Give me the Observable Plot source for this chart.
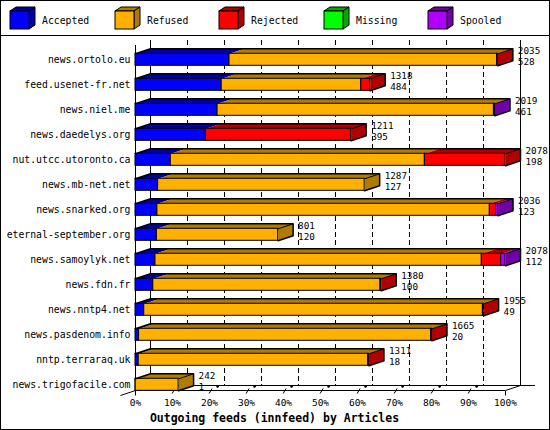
<!DOCTYPE html>
<html>
<head>
<meta charset="utf-8">
<script src="https://cdn.jsdelivr.net/npm/d3@7"></script>
<script src="https://cdn.jsdelivr.net/npm/@observablehq/plot@0.6"></script>
<style>
  html, body { margin: 0; padding: 0; background: #fff; }
  #wrap { position: relative; width: 550px; height: 430px; overflow: hidden; background: #fff; }
  #legend { position: absolute; left: 0; top: 0; width: 550px; height: 36px; }
  #chart { position: absolute; left: 0; top: 36px; }
  #frame { position: absolute; left: 0; top: 0; width: 550px; height: 430px; box-sizing: border-box; border: 1px solid #000; pointer-events: none; }
  text { font-family: "DejaVu Sans Mono", "Liberation Mono", monospace; }
</style>
</head>
<body>
<div id="wrap">
  <svg id="legend" width="550" height="36"></svg>
  <div id="chart"></div>
  <div id="frame"></div>
</div>
<script>
// ---- data ----
const hosts = ["news.ortolo.eu", "feed.usenet-fr.net", "news.niel.me", "news.daedelys.org",
  "nut.utcc.utoronto.ca", "news.mb-net.net", "news.snarked.org", "eternal-september.org",
  "news.samoylyk.net", "news.fdn.fr", "news.nntp4.net", "news.pasdenom.info",
  "nntp.terraraq.uk", "news.trigofacile.com"];
const totals   = [2035, 1318, 2019, 1211, 2078, 1287, 2036, 801, 2078, 1380, 1955, 1665, 1311, 242];
const accepted = [528, 484, 461, 395, 198, 127, 123, 120, 112, 100, 49, 20, 18, 1];
const refused  = [1503, 784, 1552, 0, 1427, 1160, 1867, 681, 1833, 1276, 1902, 1640, 1289, 241];
const rejected = [4, 50, 0, 816, 453, 0, 35, 0, 109, 4, 4, 5, 4, 0];
const missing  = [0, 0, 0, 0, 0, 0, 0, 0, 0, 0, 0, 0, 0, 0];
const spooled  = [0, 0, 6, 0, 0, 0, 11, 0, 24, 0, 0, 0, 0, 0];
const categories = ["Accepted", "Refused", "Rejected", "Missing", "Spooled"];
const frontColors = ["#0000ff", "#ffb000", "#ff0000", "#00ff00", "#b000ff"];
const darkColors  = ["#0000a8", "#b07c00", "#b00000", "#00a800", "#7000a8"];
const xTicks = [0, 10, 20, 30, 40, 50, 60, 70, 80, 90, 100];
const xTitle = "Outgoing feeds (innfeed) by Articles";

// ---- legend ----
const leg = d3.select("#legend");
leg.append("line").attr("x1", 0).attr("x2", 550).attr("y1", 35.5).attr("y2", 35.5).attr("stroke", "#000");
categories.forEach((c, k) => {
  const x0 = 10 + k * 104.5, y0 = 11, w = 19, h = 18, ddx = 6, ddy = -4;
  const g = leg.append("g").attr("transform", `translate(${Math.round(x0)},0)`);
  g.append("polygon").attr("points", `0,${y0} ${ddx},${y0+ddy} ${w+ddx},${y0+ddy} ${w},${y0}`)
    .attr("fill", darkColors[k]).attr("stroke", "#000");
  g.append("polygon").attr("points", `${w},${y0} ${w+ddx},${y0+ddy} ${w+ddx},${y0+h+ddy} ${w},${y0+h}`)
    .attr("fill", darkColors[k]).attr("stroke", "#000");
  g.append("rect").attr("x", 0).attr("y", y0).attr("width", w).attr("height", h)
    .attr("fill", frontColors[k]).attr("stroke", "#000");
  g.append("text").attr("x", 32).attr("y", 20.5).attr("dominant-baseline", "middle")
    .attr("font-size", 9.8).attr("fill", "#000").text(c);
});

// ---- geometry helpers (in data units) ----
const maxTotal = d3.max(totals);
const pct = v => v / maxTotal * 100;
const DX = 15 * 100 / 370;     // depth offset along x
const DY = -0.2;               // depth offset along y (rows)
const H = 0.24;                // half bar height (rows)
const frontTop = -0.572, backTop = frontTop + DY;
const frontFloor = 13.228, backFloor = frontFloor + DY;

const series = [accepted, refused, rejected, missing, spooled];
const segs = [], tops = [], sides = [], outlines = [], edges = [];
hosts.forEach((h, i) => {
  let cum = 0, last = 0;
  series.forEach((s, c) => {
    const v = s[i];
    if (v > 0) {
      const a = pct(cum), b = pct(cum + v);
      segs.push({i, c, x1: a, x2: b, fill: frontColors[c]});
      const id = `t${i}-${c}`;
      [[a, i - H], [b, i - H], [b + DX, i - H + DY], [a + DX, i - H + DY]]
        .forEach(([x, y]) => tops.push({id, x, y, fill: darkColors[c]}));
      cum += v; last = c;
    }
  });
  const e = pct(totals[i]);
  [[e, i - H], [e + DX, i - H + DY], [e + DX, i + H + DY], [e, i + H]]
    .forEach(([x, y]) => sides.push({id: `s${i}`, x, y, fill: darkColors[last]}));
  [[0, i - H], [DX, i - H + DY], [e + DX, i - H + DY], [e + DX, i + H + DY], [e, i + H]]
    .forEach(([x, y]) => outlines.push({id: `o${i}`, x, y}));
  edges.push({x1: e, y1: i - H, x2: e + DX, y2: i - H + DY});
});
const labels = hosts.map((h, i) => ({i, host: h, total: String(totals[i]), acc: String(accepted[i]), e: pct(totals[i])}));

const mono = "DejaVu Sans Mono, Liberation Mono, monospace";
const inner = xTicks.filter(t => t > 0 && t < 100);

const chart = Plot.plot({
  width: 550,
  height: 394,
  marginLeft: 135, marginRight: 45, marginTop: 23.3, marginBottom: 45.7,
  x: {domain: [0, 100], range: [135, 505], axis: null},
  y: {domain: [0, 13], range: [23.3, 348.3], axis: null},
  color: {type: "identity"},
  style: {fontFamily: mono, fontSize: "9.8px", background: "#fff", color: "#000"},
  marks: [
    // back wall grid
    Plot.ruleX(inner, {x: d => d + DX, y1: backTop, y2: backFloor, stroke: "#000", strokeDasharray: "5,3"}),
    Plot.ruleX([0, 100], {x: d => d + DX, y1: backTop, y2: backFloor, stroke: "#000"}),
    // floor
    Plot.ruleY([backFloor], {y: d => d, x1: DX, x2: 108.1, stroke: "#000"}),
    Plot.ruleY([frontFloor], {y: d => d, x1: 0, x2: 100, stroke: "#000"}),
    Plot.link([0], {x1: -DX, y1: frontFloor - DY, x2: DX, y2: backFloor, stroke: "#000"}),
    Plot.link([100], {x1: d => d, y1: frontFloor, x2: d => d + DX, y2: backFloor, stroke: "#000"}),
    Plot.link([0, 100], {x1: d => d, x2: d => d, y1: frontFloor, y2: frontFloor + 0.2, stroke: "#000"}),
    Plot.link(inner, {x1: d => d - 0.1, y1: frontFloor + 0.12, x2: d => d + 0.7, y2: frontFloor - 0.08, stroke: "#000"}),
    Plot.link(inner, {x1: d => d + 1.9, y1: backFloor + 0.06, x2: d => d + 2.5, y2: backFloor + 0.02, stroke: "#000", strokeWidth: 2}),
    // front left wall line
    Plot.ruleX([0], {y1: frontTop, y2: frontFloor, stroke: "#000"}),
    // bars: top faces, side faces, fronts, outlines
    Plot.line(tops, {x: "x", y: "y", z: "id", fill: "fill", stroke: "none", curve: "linear-closed"}),
    Plot.line(sides, {x: "x", y: "y", z: "id", fill: "fill", stroke: "none", curve: "linear-closed"}),
    Plot.rect(segs, {x1: "x1", x2: "x2", y1: d => d.i - H, y2: d => d.i + H, fill: "fill", stroke: "#000", strokeWidth: 1}),
    Plot.line(outlines, {x: "x", y: "y", z: "id", stroke: "#000", fill: "none"}),
    Plot.link(edges, {x1: "x1", y1: "y1", x2: "x2", y2: "y2", stroke: "#000"}),
    // host labels
    Plot.text(labels, {x: 0, y: "i", text: "host", textAnchor: "end", dx: -5, lineAnchor: "middle", fill: "#000"}),
    // value labels
    Plot.text(labels, {x: d => d.e + DX, y: d => d.i - 0.37, text: "total", textAnchor: "start", dx: 5, lineAnchor: "middle", fill: "#000", fontSize: 9.3}),
    Plot.text(labels, {x: d => d.e + DX, y: d => d.i + 0.08, text: "acc", textAnchor: "start", dx: 5, lineAnchor: "middle", fill: "#000", fontSize: 9.3}),
    // x tick labels
    Plot.text(xTicks, {x: d => d, y: 13.73, text: d => d + "%", lineAnchor: "middle", fill: "#000", fontSize: 9.5}),
    // x axis title
    Plot.text([xTitle], {frameAnchor: "bottom", dx: -46, dy: 33.4, lineAnchor: "middle", text: d => d,
      fontWeight: "bold", fontSize: 11.5, fill: "#000"})
  ]
});
document.getElementById("chart").appendChild(chart);
</script>
</body>
</html>
